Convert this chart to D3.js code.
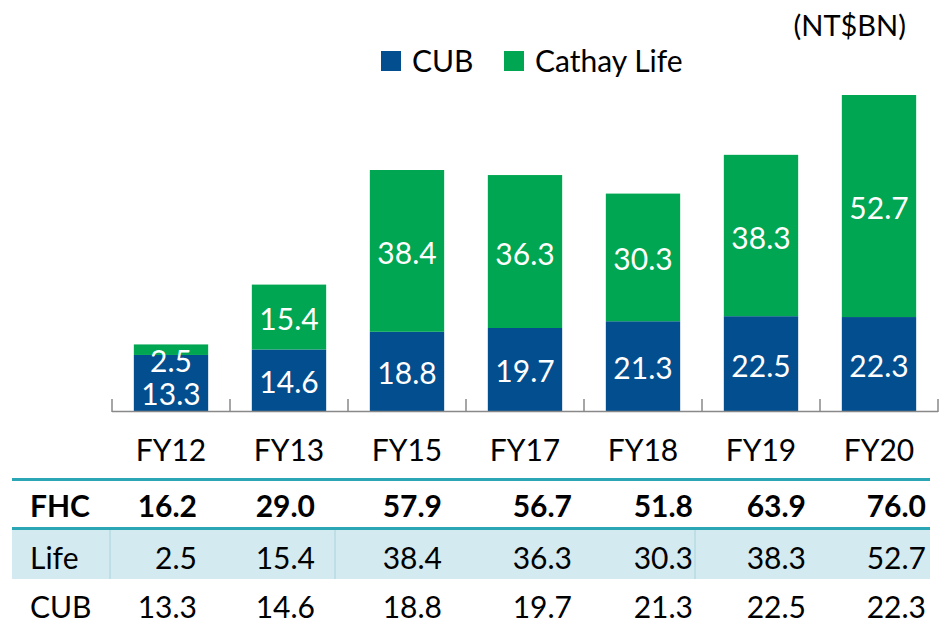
<!DOCTYPE html>
<html>
<head>
<meta charset="utf-8">
<script src="https://cdn.jsdelivr.net/npm/d3@7"></script>
<style>
  body { margin: 0; background: #fff; }
  svg text { font-family: Lato, "Open Sans", sans-serif; }
</style>
</head>
<body>
<div id="chart"></div>
<script>
var years = ["FY12", "FY13", "FY15", "FY17", "FY18", "FY19", "FY20"];
var cub = [13.3, 14.6, 18.8, 19.7, 21.3, 22.5, 22.3];
var life = [2.5, 15.4, 38.4, 36.3, 30.3, 38.3, 52.7];
var fhc = [16.2, 29.0, 57.9, 56.7, 51.8, 63.9, 76.0];
var seriesNames = ["CUB", "Cathay Life"];
var rowLabels = ["FHC", "Life", "CUB"];

var colors = ["#034e8e", "#00a651"];
var width = 948, height = 627;

// table column right edges (layout)
var tableColRight = [197, 315, 442, 572, 693, 806, 926];

var data = years.map((y, i) => ({year: y, cub: cub[i], life: life[i]}));

var svg = d3.select("#chart")
  .append("svg")
  .attr("width", width)
  .attr("height", height);

var x = d3.scaleBand()
  .domain(years)
  .range([112, 938])
  .paddingInner(0.37)
  .paddingOuter(0.185);

var stack = d3.stack().keys(["cub", "life"]);
var series = stack(data);

var y = d3.scaleLinear()
  .domain([0, d3.max(series[1], d => d[1])])
  .range([411, 95]);

// bars
svg.selectAll("g.series")
  .data(series)
  .enter()
  .append("g")
  .attr("class", "series")
  .attr("fill", (d, i) => colors[i])
  .selectAll("rect")
  .data(d => d)
  .enter()
  .append("rect")
  .attr("x", d => x(d.data.year))
  .attr("width", x.bandwidth())
  .attr("y", d => y(d[1]))
  .attr("height", d => y(d[0]) - y(d[1]));

// bar labels, pushed apart when the segment is too thin
data.forEach(function (d, i) {
  var cx = x(d.year) + x.bandwidth() / 2;
  var bBase = (y(0) + y(d.cub)) / 2 + 13;
  var gBase = (y(d.cub) + y(d.cub + d.life)) / 2 + 13;
  if (bBase - gBase < 40) {
    bBase = y(0) - 6;
    gBase = bBase - 33;
  }
  svg.append("text").attr("x", cx).attr("y", bBase)
    .attr("text-anchor", "middle").attr("fill", "#fff")
    .style("font-size", "30px").text(d3.format(".1f")(d.cub));
  svg.append("text").attr("x", cx).attr("y", gBase)
    .attr("text-anchor", "middle").attr("fill", "#fff")
    .style("font-size", "30px").text(d3.format(".1f")(d.life));
});

// axis: baseline with ticks between categories
var axisG = svg.append("g");
axisG.append("line")
  .attr("x1", x.range()[0]).attr("x2", x.range()[1])
  .attr("y1", y(0) + 0.5).attr("y2", y(0) + 0.5)
  .attr("stroke", "#898989").attr("stroke-width", 1.5);
var tickPos = years.map(v => x(v) - x.step() * x.paddingInner() / 2);
tickPos.push(x.range()[1]);
axisG.selectAll("line.tick")
  .data(tickPos)
  .enter()
  .append("line")
  .attr("class", "tick")
  .attr("x1", d => d).attr("x2", d => d)
  .attr("y1", y(0) - 12).attr("y2", y(0) + 1)
  .attr("stroke", "#898989").attr("stroke-width", 1.5);

axisG.selectAll("text")
  .data(years)
  .enter()
  .append("text")
  .attr("x", d => x(d) + x.bandwidth() / 2)
  .attr("y", 461)
  .attr("text-anchor", "middle")
  .attr("fill", "#000")
  .style("font-size", "30px")
  .text(d => d);

// legend
var legendX = [381, 504];
var legend = svg.selectAll("g.legend")
  .data(seriesNames)
  .enter()
  .append("g")
  .attr("class", "legend")
  .attr("transform", (d, i) => "translate(" + legendX[i] + ",51)");
legend.append("rect")
  .attr("width", 20).attr("height", 20)
  .attr("fill", (d, i) => colors[i]);
legend.append("text")
  .attr("x", 31).attr("y", 21)
  .style("font-size", "30px")
  .text(d => d);

svg.append("text")
  .attr("x", 906).attr("y", 36)
  .attr("text-anchor", "end")
  .style("font-size", "29px")
  .text("(NT$BN)");

// table
var rows = [fhc, life, cub];
var rowBase = [517, 569, 618];

svg.append("rect")
  .attr("x", 12).attr("y", 529)
  .attr("width", 918).attr("height", 50)
  .attr("fill", "#d3ebf0");
[110, 335, 695].forEach(function (vx) {
  svg.append("line")
    .attr("x1", vx).attr("x2", vx).attr("y1", 530).attr("y2", 579)
    .attr("stroke", "#a6d3da").attr("stroke-width", 1);
});
[479.5, 528.5].forEach(function (ly) {
  svg.append("line")
    .attr("x1", 12).attr("x2", 930).attr("y1", ly).attr("y2", ly)
    .attr("stroke", "#2aa6b4").attr("stroke-width", 3);
});

rows.forEach(function (r, ri) {
  var bold = ri === 0 ? "bold" : "normal";
  svg.append("text")
    .attr("x", 30).attr("y", rowBase[ri])
    .style("font-size", "30px").style("font-weight", bold)
    .text(rowLabels[ri]);
  svg.selectAll(null)
    .data(r)
    .enter()
    .append("text")
    .attr("x", (d, i) => tableColRight[i])
    .attr("y", rowBase[ri])
    .attr("text-anchor", "end")
    .style("font-size", "30px")
    .style("font-weight", bold)
    .text(d => d3.format(".1f")(d));
});
</script>
</body>
</html>
